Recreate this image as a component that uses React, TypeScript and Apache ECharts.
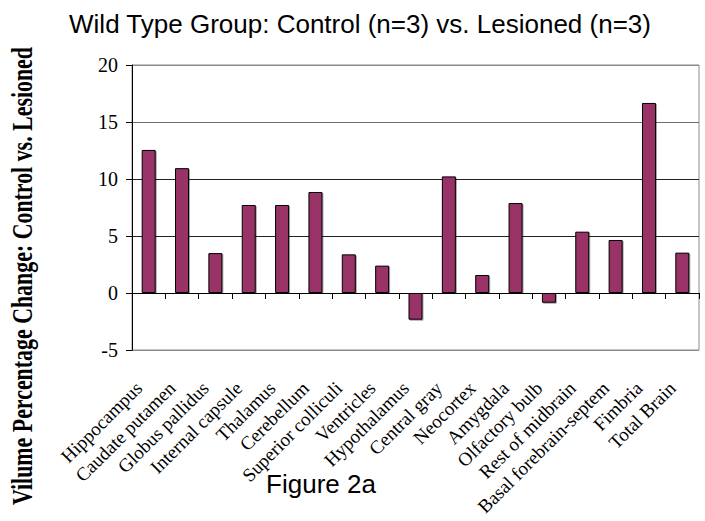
import React, { useEffect, useRef } from "react";
import * as echarts from "echarts";

const categories = [
  "Hippocampus",
  "Caudate putamen",
  "Globus pallidus",
  "Internal capsule",
  "Thalamus",
  "Cerebellum",
  "Superior colliculi",
  "Ventricles",
  "Hypothalamus",
  "Central gray",
  "Neocortex",
  "Amygdala",
  "Olfactory bulb",
  "Rest of midbrain",
  "Basal forebrain-septem",
  "Fimbria",
  "Total Brain",
];

const percentChange = [
  12.55, 10.95, 3.5, 7.72, 7.72, 8.86, 3.39, 2.4, -2.34, 10.23, 1.58, 7.89, -0.85, 5.38, 4.65,
  16.67, 3.54,
];

const titleText = "Wild Type Group: Control (n=3) vs. Lesioned (n=3)";
const yAxisTitle = "Vilume Percentage Change: Control vs. Lesioned";
const captionText = "Figure 2a";

const serif = "'Liberation Serif', 'Times New Roman', Times, serif";
const sans = "'Liberation Sans', Arial, Helvetica, sans-serif";

export default function App() {
  const ref = useRef<HTMLDivElement>(null);
  useEffect(() => {
    if (!ref.current) return;
    const chart = echarts.init(ref.current, undefined, { renderer: "svg" });
    chart.setOption({
      animation: false,
      backgroundColor: "#ffffff",
      grid: {
        left: 132,
        right: 6,
        top: 65,
        bottom: 171,
        show: true,
        borderColor: "#8a8a8a",
        borderWidth: 1,
      },
      xAxis: [
        {
          type: "category",
          data: categories,
          position: "bottom",
          axisLine: { onZero: true, lineStyle: { color: "#000", width: 1 } },
          axisTick: { show: true, interval: 0, length: 6, lineStyle: { color: "#000" } },
          axisLabel: { show: false },
          splitLine: { show: false },
        },
        {
          type: "category",
          data: categories,
          position: "bottom",
          axisLine: { show: false, onZero: false },
          axisTick: { show: false },
          axisLabel: {
            show: true,
            interval: 0,
            rotate: 45,
            margin: 25,
            padding: [0, 14, 0, 0],
            fontFamily: serif,
            fontSize: 19,
            color: "#000",
          },
          splitLine: { show: false },
        },
      ],
      yAxis: {
        type: "value",
        min: -5,
        max: 20,
        interval: 5,
        axisLine: { show: true, lineStyle: { color: "#000", width: 1 } },
        axisTick: { show: true, length: 6, lineStyle: { color: "#000" } },
        axisLabel: { margin: 14, fontFamily: serif, fontSize: 20, color: "#000" },
        splitLine: {
          show: true,
          lineStyle: {
            color: ["#8a8a8a", "#000000", "#222222", "#222222", "#6e6e6e", "#8a8a8a"],
            width: 1,
          },
        },
      },
      series: [
        {
          type: "bar",
          data: percentChange,
          xAxisIndex: 0,
          barWidth: 14,
          itemStyle: {
            color: "#993366",
            borderColor: "#000",
            borderWidth: 1,
            shadowColor: "rgba(0,0,0,0.35)",
            shadowOffsetX: 1,
            shadowOffsetY: 1,
          },
        },
      ],
      graphic: [
        {
          type: "text",
          x: 360,
          y: 24,
          style: {
            text: titleText,
            font: `26px ${sans}`,
            fill: "#000",
            align: "center",
            verticalAlign: "middle",
          },
        },
        {
          type: "text",
          x: 22,
          y: 276,
          rotation: Math.PI / 2,
          scaleX: 0.73,
          scaleY: 1,
          style: {
            text: yAxisTitle,
            font: `bold 30px ${serif}`,
            fill: "#000",
            align: "center",
            verticalAlign: "middle",
          },
        },
        {
          type: "text",
          x: 321,
          y: 484,
          style: {
            text: captionText,
            font: `26px ${sans}`,
            fill: "#000",
            align: "center",
            verticalAlign: "middle",
          },
        },
      ],
    });
    return () => chart.dispose();
  }, []);
  return (
    <div
      ref={ref}
      style={{ position: "absolute", left: 0, top: 0, width: 705, height: 521 }}
    />
  );
}
